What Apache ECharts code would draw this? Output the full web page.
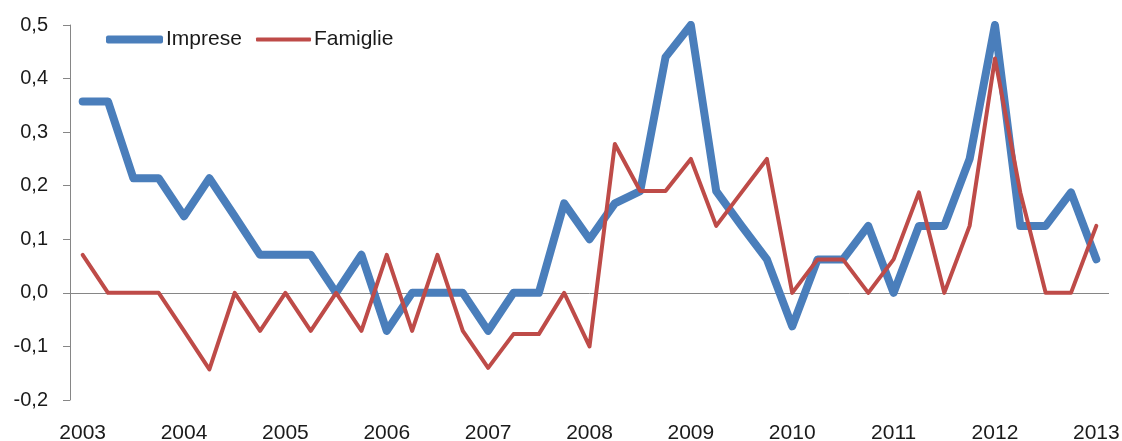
<!DOCTYPE html>
<html>
<head>
<meta charset="utf-8">
<script src="https://cdn.jsdelivr.net/npm/echarts@6/dist/echarts.min.js"></script>
<style>
html,body{margin:0;padding:0;background:#fff;}
#chart{width:1122px;height:441px;}
</style>
</head>
<body>
<div id="chart"></div>
<script>
// Quarterly categories 2003Q1 .. 2013Q1
const quarters = [];
for (let y = 2003; y <= 2013; y++) {
  for (let q = 1; q <= 4; q++) {
    if (y === 2013 && q > 1) break;
    quarters.push(y + '-T' + q);
  }
}
const imprese = [
  0.357, 0.357, 0.214, 0.214,
  0.143, 0.214, 0.143, 0.071,
  0.071, 0.071, 0.0, 0.071,
  -0.071, 0.0, 0.0, 0.0,
  -0.071, 0.0, 0.0, 0.167,
  0.1, 0.167, 0.19, 0.44,
  0.5, 0.19, 0.125, 0.0625,
  -0.0625, 0.0625, 0.0625, 0.125,
  0.0, 0.125, 0.125, 0.25,
  0.5, 0.125, 0.125, 0.1875,
  0.0625
];
const famiglie = [
  0.071, 0.0, 0.0, 0.0,
  -0.071, -0.143, 0.0, -0.071,
  0.0, -0.071, 0.0, -0.071,
  0.071, -0.071, 0.071, -0.071,
  -0.14, -0.077, -0.077, 0.0,
  -0.1, 0.278, 0.19, 0.19,
  0.25, 0.125, 0.1875, 0.25,
  0.0, 0.0625, 0.0625, 0.0,
  0.0625, 0.1875, 0.0, 0.125,
  0.4375, 0.1875, 0.0, 0.0,
  0.125
];
const seriesNames = ['Imprese', 'Famiglie'];

const FONT = 'Liberation Sans';
const BLUE = '#4A7EBB';
const RED = '#BE4B48';
const legendText = {fontFamily: FONT, fontSize: 21, color: '#1a1a1a', padding: [0, 0, 0, -2]};
const chart = echarts.init(document.getElementById('chart'), null, {renderer: 'canvas'});
chart.setOption({
  animation: false,
  backgroundColor: '#ffffff',
  textStyle: {fontFamily: FONT},
  grid: {left: 70, right: 13, top: 25, bottom: 41, containLabel: false, outerBoundsMode: 'none'},
  legend: [
    {
      data: [{name: seriesNames[0], icon: 'roundRect', itemStyle: {color: BLUE}}],
      left: 101,
      top: 24,
      itemWidth: 57,
      itemHeight: 8,
      textStyle: legendText
    },
    {
      data: [{name: seriesNames[1], icon: 'roundRect', itemStyle: {color: RED}}],
      left: 251,
      top: 24,
      itemWidth: 55,
      itemHeight: 4,
      textStyle: legendText
    }
  ],
  xAxis: {
    type: 'category',
    data: quarters,
    boundaryGap: true,
    axisLine: {show: false},
    axisTick: {show: false},
    axisLabel: {
      interval: 3,
      margin: 23,
      fontSize: 21,
      color: '#1a1a1a',
      fontFamily: FONT,
      formatter: v => v.slice(0, 4)
    },
    splitLine: {show: false}
  },
  yAxis: {
    type: 'value',
    min: -0.2,
    max: 0.5,
    interval: 0.1,
    axisLine: {show: true, lineStyle: {color: '#868686', width: 1}},
    axisTick: {show: true, length: 7, lineStyle: {color: '#868686'}},
    splitLine: {show: false},
    axisLabel: {
      margin: 22,
      fontSize: 20,
      color: '#1a1a1a',
      fontFamily: FONT,
      formatter: v => (Math.round(v * 10) / 10).toFixed(1).replace('.', ',')
    }
  },
  series: [
    {
      name: seriesNames[0],
      type: 'line',
      data: imprese,
      symbol: 'none',
      color: BLUE,
      lineStyle: {color: BLUE, width: 8, cap: 'round', join: 'round'},
      z: 2,
      markLine: {
        silent: true,
        symbol: 'none',
        label: {show: false},
        lineStyle: {color: '#868686', width: 1, type: 'solid'},
        data: [{yAxis: 0}],
        z: 1
      }
    },
    {
      name: seriesNames[1],
      type: 'line',
      data: famiglie,
      symbol: 'none',
      color: RED,
      lineStyle: {color: RED, width: 4, cap: 'round', join: 'round'},
      z: 3
    }
  ]
});
</script>
</body>
</html>
